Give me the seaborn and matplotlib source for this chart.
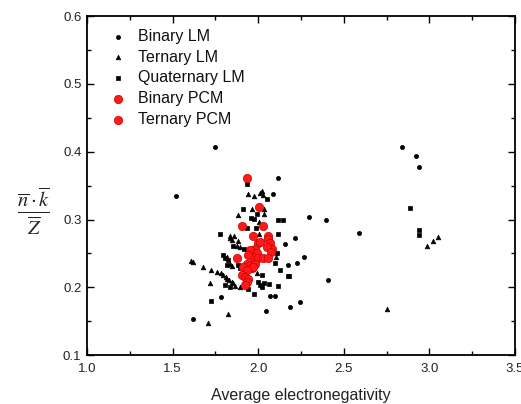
import matplotlib
matplotlib.use("Agg")
import matplotlib.pyplot as plt
import seaborn as sns
import pandas as pd
from matplotlib.ticker import MultipleLocator

sns.set_theme(style="white")
plt.rcParams['font.family'] = ['Liberation Sans', 'DejaVu Sans']
plt.rcParams['mathtext.fontset'] = 'stix'

# ---- data ----
binary_lm_x = [1.748, 1.518, 2.117, 2.088, 2.297, 2.394, 2.838, 2.922, 2.941, 2.591, 2.217, 2.159,
               2.269, 2.228, 2.176, 1.621, 2.044, 2.186, 2.244, 2.406, 1.783, 2.098, 2.069]
binary_lm_y = [0.407, 0.335, 0.362, 0.337, 0.303, 0.300, 0.407, 0.394, 0.378, 0.280, 0.273, 0.264,
               0.244, 0.236, 0.233, 0.153, 0.165, 0.171, 0.179, 0.211, 0.186, 0.187, 0.187]

ternary_lm_x = [1.940, 1.977, 2.010, 2.020, 2.030, 1.962, 2.034, 1.880, 2.036, 2.006, 1.835, 1.859,
                1.845, 2.005, 1.880, 1.874, 1.894, 1.606, 1.617, 1.680, 1.722, 1.757, 1.783, 1.797,
                1.812, 1.820, 1.831, 1.845, 1.855, 1.865, 1.894, 1.718, 1.820, 1.835, 1.845, 2.104,
                1.991, 1.709, 1.826, 2.752, 3.052, 3.021, 2.986, 1.837]
ternary_lm_y = [0.338, 0.335, 0.339, 0.342, 0.336, 0.316, 0.315, 0.306, 0.308, 0.297, 0.275, 0.276,
                0.270, 0.279, 0.268, 0.261, 0.260, 0.239, 0.237, 0.230, 0.226, 0.223, 0.221, 0.218,
                0.215, 0.213, 0.211, 0.208, 0.206, 0.202, 0.201, 0.207, 0.245, 0.235, 0.231, 0.244,
                0.221, 0.147, 0.160, 0.168, 0.274, 0.268, 0.261, 0.273]

quaternary_lm_x = [1.933, 2.053, 1.909, 1.991, 1.958, 1.977, 2.113, 2.147, 1.936, 1.987, 1.777, 2.113,
                   1.855, 1.919, 2.889, 2.937, 2.937, 1.797, 1.806, 1.826, 1.816, 1.884, 1.894, 1.722,
                   1.976, 1.942, 2.011, 2.020, 2.034, 2.065, 2.113, 2.172, 2.180, 2.127, 2.098, 2.108,
                   2.024, 2.001, 1.806, 1.835]
quaternary_lm_y = [0.352, 0.330, 0.316, 0.308, 0.302, 0.301, 0.300, 0.300, 0.288, 0.288, 0.278, 0.278,
                   0.261, 0.257, 0.317, 0.285, 0.277, 0.247, 0.243, 0.240, 0.233, 0.233, 0.228, 0.180,
                   0.190, 0.197, 0.203, 0.201, 0.206, 0.205, 0.202, 0.217, 0.216, 0.225, 0.236, 0.251,
                   0.218, 0.208, 0.203, 0.201]

binary_pcm_x = [1.933, 2.005, 1.907, 2.026, 1.971, 2.059, 2.055, 2.001, 2.011, 2.069, 2.083, 2.050,
                2.073, 1.874]
binary_pcm_y = [0.361, 0.318, 0.290, 0.290, 0.276, 0.276, 0.272, 0.265, 0.267, 0.265, 0.257, 0.259,
                0.252, 0.243]

ternary_pcm_x = [1.981, 1.952, 1.991, 1.971, 2.001, 2.030, 2.059, 1.942, 1.933, 1.952, 1.981, 1.962,
                 1.971, 1.913, 1.933, 1.904, 1.923, 1.942, 1.933, 1.923]
ternary_pcm_y = [0.257, 0.255, 0.250, 0.245, 0.243, 0.243, 0.243, 0.247, 0.235, 0.233, 0.235, 0.228,
                 0.230, 0.230, 0.225, 0.218, 0.215, 0.213, 0.208, 0.203]

x_ticks = [1.0, 1.5, 2.0, 2.5, 3.0, 3.5]
y_ticks = [0.1, 0.2, 0.3, 0.4, 0.5, 0.6]

fig = plt.figure(figsize=(5.21, 4.04), dpi=100)
ax = fig.add_axes([0.167, 0.121, 0.8215, 0.839])

series = [
    ("Binary LM", binary_lm_x, binary_lm_y, "o", "black", "black", 9),
    ("Ternary LM", ternary_lm_x, ternary_lm_y, "^", "black", "black", 11),
    ("Quaternary LM", quaternary_lm_x, quaternary_lm_y, "s", "black", "black", 7),
    ("Binary PCM", binary_pcm_x, binary_pcm_y, "o", "#ff1a1a", "#c80000", 36),
    ("Ternary PCM", ternary_pcm_x, ternary_pcm_y, "o", "#ff1a1a", "#c80000", 36),
]
for name, xs, ys, m, fc, ec, s in series:
    df = pd.DataFrame({"x": xs, "y": ys})
    sns.scatterplot(data=df, x="x", y="y", marker=m, color=fc, edgecolor=ec,
                    linewidth=0.5, s=s, ax=ax, label=name, zorder=3 if fc != "black" else 2)

ax.set_xlim(1.0, 3.5)
ax.set_ylim(0.1, 0.6)
ax.set_xticks(x_ticks)
ax.set_yticks(y_ticks)
ax.set_xticklabels([f"{v:.1f}" for v in x_ticks])
ax.set_yticklabels([f"{v:.1f}" for v in y_ticks])
ax.xaxis.set_minor_locator(MultipleLocator(0.25))
ax.yaxis.set_minor_locator(MultipleLocator(0.05))
ax.tick_params(which='both', direction='in', top=True, right=True, bottom=True, left=True,
               color='black', width=1.0, labelsize=9.5, labelcolor='#222222')
ax.tick_params(axis='x', which='both', pad=6)
ax.tick_params(axis='y', which='both', pad=4)
ax.tick_params(which='major', length=5)
ax.tick_params(which='minor', length=3)
for sp in ax.spines.values():
    sp.set_color('black')
    sp.set_linewidth(1.3)

ax.set_xlabel("Average electronegativity", fontsize=11.5, color='#222222', labelpad=9)
ax.set_ylabel(r"$\frac{\overline{n}\cdot\overline{k}}{\overline{Z}}$", rotation=0,
              fontsize=21, color='#222222', va='center', ha='center')
ax.yaxis.set_label_coords(-0.124, 0.425)

leg = ax.legend(loc='upper left', frameon=False, fontsize=11.5, handletextpad=0.25,
                labelspacing=0.36, borderaxespad=0.4, bbox_to_anchor=(0.006, 1.0),
                markerscale=1.0)
for t in leg.get_texts():
    t.set_color('#111111')

fig.savefig("out.png", dpi=100)
